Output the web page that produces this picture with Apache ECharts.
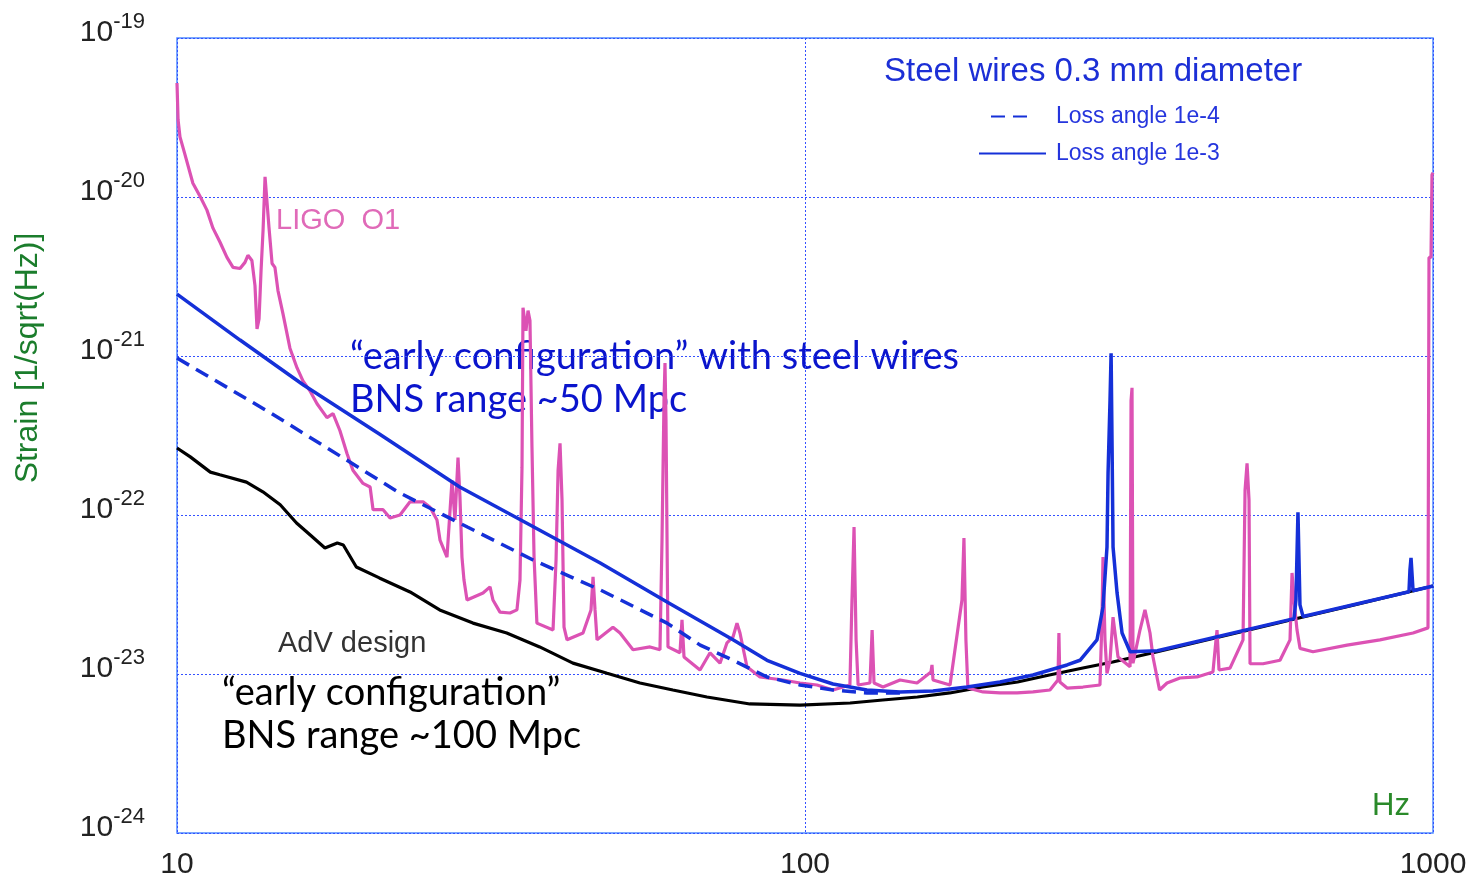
<!DOCTYPE html>
<html><head><meta charset="utf-8">
<script src="https://cdn.jsdelivr.net/npm/echarts@6/dist/echarts.min.js"></script>
<style>html,body{margin:0;padding:0;background:#fff}#chart{width:1480px;height:888px}</style>
</head><body><div id="chart"></div>
<script>
// Frequency [Hz], strain [1/sqrt(Hz)]
const advDesign = [
 [10.0,2.64e-22],[10.5,2.32e-22],[11.3,1.86e-22],[11.7,1.79e-22],[12.9,1.61e-22],[13.7,1.40e-22],[14.6,1.16e-22],
 [15.5,8.91e-23],[16.3,7.48e-23],[17.2,6.20e-23],[18.0,6.67e-23],[18.4,6.48e-23],[19.3,4.71e-23],[21.0,4.02e-23],
 [23.5,3.28e-23],[26.2,2.53e-23],[29.6,2.09e-23],[33.5,1.81e-23],[37.8,1.48e-23],[42.7,1.17e-23],[48.4,1.01e-23],
 [54.6,8.78e-24],[61.6,7.93e-24],[69.8,7.17e-24],[81.7,6.48e-24],[98.2,6.38e-24],[118,6.57e-24],[133,6.86e-24],
 [151,7.17e-24],[170,7.60e-24],[192,8.28e-24],[218,8.91e-24],[245,9.86e-24],[277,1.09e-23],[309,1.19e-23],
 [364,1.38e-23],[426,1.60e-23],[511,1.90e-23],[614,2.26e-23],[738,2.68e-23],[1000,3.58e-23]
];
const steelLoss1e3 = [
 [10.0,2.45e-21],[12.6,1.26e-21],[15.9,6.57e-22],[21.0,3.23e-22],[28.2,1.50e-22],[36.5,8.65e-23],[47.2,4.99e-23],
 [60.3,2.84e-23],[76.8,1.64e-23],[87.0,1.22e-23],[98.2,1.01e-23],[110.8,8.65e-24],[125.5,7.93e-24],[141.7,7.71e-24],
 [159.9,7.82e-24],[181.1,8.28e-24],[204.4,8.91e-24],[230.7,9.86e-24],[261.4,1.14e-23],[274.1,1.22e-23],
 [291.7,1.64e-23],[298.2,2.64e-23],[302.6,6.29e-23],[303.8,1.84e-22],[306.0,5.29e-22],[307.2,1.04e-21],
 [308.3,2.68e-22],[309.4,6.29e-23],[314.0,3.23e-23],[319.8,1.81e-23],[329.3,1.38e-23],[364,1.40e-23],
 [426,1.62e-23],[600.7,2.23e-23],[605.0,2.92e-23],[609.5,1.04e-22],[614.0,2.72e-23],[620.9,2.30e-23],
 [915.7,3.29e-23],[919,4.51e-23],[922.6,5.37e-23],[926,5.37e-23],[929.4,3.34e-23],[1000,3.58e-23]
];
const steelLoss1e4 = [
 [10.0,9.71e-22],[14.1,4.38e-22],[22.6,1.38e-22],[29.0,8.40e-23],[36.9,5.21e-23],[47.2,3.38e-23],[60.3,2.09e-23],
 [68.1,1.52e-23],[76.8,1.22e-23],[87.0,9.58e-24],[98.2,8.53e-24],[110.8,7.93e-24],[125.5,7.60e-24],[141.7,7.60e-24]
];
const ligoO1 = [
 [10.0,5.21e-20],[10.04,3.05e-20],[10.11,2.39e-20],[10.30,1.84e-20],[10.60,1.22e-20],[10.88,1.01e-20],[11.16,8.27e-21],
 [11.41,6.37e-21],[11.71,5.19e-21],[12.01,4.17e-21],[12.28,3.61e-21],[12.60,3.55e-21],[12.83,3.88e-21],[12.97,4.30e-21],
 [13.16,3.99e-21],[13.31,2.77e-21],[13.41,1.48e-21],[13.51,1.71e-21],[13.61,3.45e-21],[13.71,6.18e-21],[13.81,1.34e-20],
 [13.91,1.34e-20],[14.01,6.46e-21],[14.17,3.82e-21],[14.32,3.61e-21],[14.48,2.58e-21],[14.75,1.84e-21],[15.13,1.12e-21],
 [15.53,8.41e-22],[15.87,6.98e-22],[16.28,6.04e-22],[16.71,5.01e-22],[17.33,4.10e-22],[17.72,4.34e-22],[18.17,3.40e-22],
 [18.65,2.44e-22],[19.06,1.91e-22],[19.78,1.58e-22],[20.30,1.50e-22],[20.52,1.08e-22],[21.29,1.08e-22],[21.84,9.58e-23],
 [22.65,1.00e-22],[23.50,1.21e-22],[24.65,1.21e-22],[25.29,1.12e-22],[25.94,9.30e-23],[26.23,6.96e-23],[26.91,5.44e-23],
 [27.41,1.65e-22],[27.71,9.30e-23],[28.02,2.30e-22],[28.22,1.30e-22],[28.43,5.44e-23],[28.64,3.90e-23],[28.96,2.92e-23],
 [30.71,3.23e-23],[31.51,3.53e-23],[31.85,2.92e-23],[32.68,2.45e-23],[33.90,2.42e-23],[34.78,2.53e-23],[35.17,3.90e-23],
 [35.43,2.00e-22],[35.56,2.01e-21],[35.95,1.44e-21],[36.22,1.93e-21],[36.48,1.67e-21],[36.75,2.66e-22],[37.03,5.44e-23],
 [37.42,2.09e-23],[39.70,1.89e-23],[40.14,5.21e-23],[40.44,1.91e-22],[40.73,2.82e-22],[41.03,1.24e-22],[41.33,1.97e-23],
 [41.79,1.64e-23],[44.31,1.81e-23],[45.63,2.53e-23],[45.97,4.08e-23],[46.31,2.53e-23],[46.65,1.64e-23],[49.45,1.97e-23],
 [50.75,1.81e-23],[53.23,1.42e-23],[56.65,1.48e-23],[58.76,1.42e-23],[59.20,6.96e-23],[59.63,5.23e-22],[59.85,9.04e-22],
 [60.07,3.93e-22],[60.51,1.48e-23],[63.23,1.36e-23],[63.70,2.19e-23],[64.17,1.28e-23],[68.05,1.06e-23],[70.60,1.36e-23],
 [73.23,1.17e-23],[75.13,1.57e-23],[76.80,1.71e-23],[77.93,2.09e-23],[78.79,1.81e-23],[80.83,1.11e-23],[84.78,9.58e-24],
 [92.25,9.17e-24],[98.18,8.78e-24],[104.5,8.53e-24],[110.8,7.93e-24],[117.9,8.53e-24],[118.8,2.92e-23],[119.7,8.40e-23],
 [120.6,1.64e-23],[121.5,8.53e-24],[126.9,8.78e-24],[127.9,1.89e-23],[128.8,8.78e-24],[133.1,8.28e-24],[141.7,9.17e-24],
 [150.8,8.78e-24],[158.7,1.03e-23],[159.3,1.14e-23],[159.9,9.17e-24],[170.2,8.53e-24],[177.8,2.92e-23],[179.1,7.17e-23],
 [180.4,1.64e-23],[181.7,8.16e-24],[192.1,7.71e-24],[204.4,7.60e-24],[217.6,7.60e-24],[230.7,7.71e-24],[245.5,7.93e-24],
 [252.8,9.17e-24],[253.7,1.81e-23],[254.6,8.91e-24],[261.4,8.16e-24],[277.1,8.28e-24],[294.9,8.53e-24],[297.1,2.19e-23],
 [298.2,5.44e-23],[300.4,1.64e-23],[302.6,1.01e-23],[306.0,1.22e-23],[309.4,2.28e-23],[315.1,1.28e-23],[329.3,1.11e-23],
 [330.5,5.23e-22],[331.7,6.31e-22],[332.9,1.17e-23],[341.5,1.89e-23],[347.8,2.53e-23],[354.3,1.81e-23],[358.2,1.28e-23],
 [366.9,7.93e-24],[377.1,8.78e-24],[395.5,9.44e-24],[420.9,9.58e-24],[446.3,1.03e-23],[451.3,1.64e-23],[453.0,1.89e-23],
 [456.3,1.06e-23],[475.1,1.09e-23],[498.3,1.64e-23],[502.0,1.43e-22],[505.7,2.11e-22],[509.4,1.24e-22],[511.3,1.16e-23],
 [536.3,1.16e-23],[570.7,1.22e-23],[592.0,1.64e-23],[596.4,4.32e-23],[600.7,2.92e-23],[607.4,1.89e-23],[614.1,1.45e-23],
 [644.0,1.38e-23],[729.7,1.52e-23],[823.3,1.64e-23],[929.4,1.81e-23],[981.8,1.95e-23],[985.4,4.17e-21],[992.7,4.17e-21],
 [996.3,1.38e-20],[1000,1.42e-20]
];
const xRange = [10, 1000];
const yRange = [1e-24, 1e-19];
// The y axis is plotted in units of 1e-24 (log scale rounding works poorly at 1e-24 magnitudes)
const Y_UNIT = 1e-24;
const UNIT_EXP = -24;
const toPlot = arr => arr.map(([f, h]) => [f, h / Y_UNIT]);

const BLUE = '#1530d8';
const chart = echarts.init(document.getElementById('chart'), null, {renderer: 'canvas'});
const helv = 'Liberation Sans, Arial, sans-serif';
const aven = 'Lato, Noto Sans, sans-serif';

chart.setOption({
  animation: false,
  backgroundColor: '#fff',
  grid: {left: 177, top: 38, right: 47, bottom: 55, show: true, borderColor: '#4f8cff', borderWidth: 1.5, backgroundColor: '#fff'},
  xAxis: {
    type: 'log', logBase: 10, min: xRange[0], max: xRange[1],
    axisLine: {show: false}, axisTick: {show: false},
    axisLabel: {fontSize: 30, color: '#222', fontFamily: helv, margin: 17, formatter: v => String(Math.round(v))},
    splitLine: {show: true, lineStyle: {color: '#3450ff', type: [2, 2], width: 1}}
  },
  yAxis: {
    type: 'log', logBase: 10, min: Math.round(yRange[0] / Y_UNIT), max: Math.round(yRange[1] / Y_UNIT),
    axisLine: {show: false}, axisTick: {show: false},
    axisLabel: {
      margin: 32,
      formatter: v => '{b|10}{s|' + (Math.round(Math.log10(v)) + UNIT_EXP) + '}',
      rich: {
        b: {fontSize: 30, color: '#222', fontFamily: helv, lineHeight: 36, padding: [0, 0, 10, 0]},
        s: {fontSize: 22, color: '#222', fontFamily: helv, lineHeight: 22, padding: [0, 0, 32, 0]}
      }
    },
    splitLine: {show: true, lineStyle: {color: '#3450ff', type: [2, 2], width: 1}}
  },
  legend: [
    {data: ['Loss angle 1e-4'], left: 985, top: 100, itemWidth: 43, itemHeight: 20, itemStyle: {opacity: 0},
     textStyle: {fontSize: 23, color: '#2535dd', fontFamily: helv, padding: [0, 0, 0, 17]}},
    {data: ['Loss angle 1e-3'], left: 973, top: 137, itemWidth: 67, itemHeight: 20, itemStyle: {opacity: 0},
     textStyle: {fontSize: 23, color: '#2535dd', fontFamily: helv, padding: [0, 0, 0, 5]}}
  ],
  series: [
    {name: 'AdV design', type: 'line', data: toPlot(advDesign), showSymbol: false, symbol: 'none',
     lineStyle: {color: '#000', width: 3.2}, z: 2},
    {name: 'LIGO O1', type: 'line', data: toPlot(ligoO1), showSymbol: false, symbol: 'none',
     lineStyle: {color: '#dc52b4', width: 3.2}, z: 3},
    {name: 'Loss angle 1e-4', type: 'line', data: toPlot(steelLoss1e4), showSymbol: false, symbol: 'none',
     itemStyle: {color: BLUE}, lineStyle: {color: BLUE, width: 3.5, type: [14, 8]}, z: 4},
    {name: 'Loss angle 1e-3', type: 'line', data: toPlot(steelLoss1e3), showSymbol: false, symbol: 'none',
     itemStyle: {color: BLUE}, lineStyle: {color: BLUE, width: 3.5}, z: 5}
  ],
  graphic: [
    {type: 'text', x: 28, y: 358, rotation: Math.PI / 2,
     style: {text: 'Strain [1/sqrt(Hz)]', fontSize: 32, fill: '#1b7d2c', fontFamily: helv, align: 'center', verticalAlign: 'middle'}},
    {type: 'text', x: 1372, y: 806,
     style: {text: 'Hz', fontSize: 31, fill: '#2a8a2a', fontFamily: helv, align: 'left', verticalAlign: 'middle'}},
    {type: 'text', x: 884, y: 72,
     style: {text: 'Steel wires 0.3 mm diameter', fontSize: 33, fill: '#1c2fd6', fontFamily: helv, align: 'left', verticalAlign: 'middle'}},
    {type: 'text', x: 276, y: 221,
     style: {text: 'LIGO  O1', fontSize: 29, fill: '#e06ab8', fontFamily: helv, align: 'left', verticalAlign: 'middle'}},
    {type: 'text', x: 278, y: 644,
     style: {text: 'AdV design', fontSize: 29, fill: '#333', fontFamily: helv, align: 'left', verticalAlign: 'middle'}},
    {type: 'text', left: 350, top: 335,
     style: {text: '\u201Cearly configuration\u201D with steel wires\nBNS range ~50 Mpc', fontSize: 38, lineHeight: 43, fill: '#0a14cc', fontFamily: aven, align: 'left', verticalAlign: 'top'}},
    {type: 'text', left: 222, top: 671,
     style: {text: '\u201Cearly configuration\u201D\nBNS range ~100 Mpc', fontSize: 38, lineHeight: 43, fill: '#000', fontFamily: aven, align: 'left', verticalAlign: 'top'}}
  ]
});
</script></body></html>
